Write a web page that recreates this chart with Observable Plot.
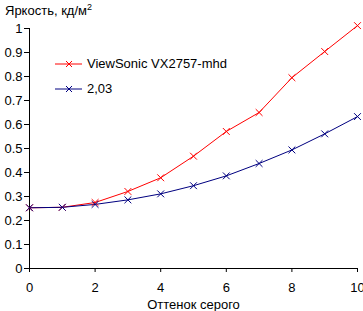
<!DOCTYPE html>
<html>
<head>
<meta charset="utf-8">
<script src="https://cdn.jsdelivr.net/npm/d3@7"></script>
<script src="https://cdn.jsdelivr.net/npm/@observablehq/plot@0.6"></script>
<style>
  html, body { margin: 0; padding: 0; background: #fff; }
  #wrap { position: relative; width: 363px; height: 311px; font-family: "Liberation Sans", Arial, sans-serif; font-size: 13px; color: #000; }
  #wrap svg { display: block; }
  .ov { position: absolute; white-space: nowrap; line-height: 1; }
  .leg { position: absolute; left: 55px; display: flex; align-items: center; white-space: nowrap; }
  .leg span { margin-left: 4px; }
</style>
</head>
<body>
<div id="wrap"></div>
<script>
const shades = [0, 1, 2, 3, 4, 5, 6, 7, 8, 9, 10];
const monitorValues = [0.253, 0.255, 0.275, 0.321, 0.378, 0.468, 0.571, 0.650, 0.795, 0.904, 1.012];
const gammaValues   = [0.253, 0.255, 0.267, 0.286, 0.311, 0.345, 0.386, 0.4375, 0.494, 0.561, 0.633];
const seriesNames = ["ViewSonic VX2757-mhd", "2,03"];
const seriesColors = ["#ff0000", "#000080"];
const xTicks = [0, 2, 4, 6, 8, 10];
const yTicks = [0, 0.1, 0.2, 0.3, 0.4, 0.5, 0.6, 0.7, 0.8, 0.9, 1];
const yTitle = "Яркость, кд/м";
const xTitle = "Оттенок серого";

const data = [];
shades.forEach((s, i) => {
  data.push({x: s, y: monitorValues[i], series: seriesNames[0]});
  data.push({x: s, y: gammaValues[i], series: seriesNames[1]});
});
const colorOf = d => seriesColors[seriesNames.indexOf(d.series)];

const chart = Plot.plot({
  width: 363,
  height: 311,
  marginLeft: 29,
  marginRight: 6,
  marginTop: 28,
  marginBottom: 43,
  style: {fontFamily: '"Liberation Sans", Arial, sans-serif', fontSize: "13px", color: "#000", background: "#fff"},
  x: {domain: [0, 10]},
  y: {domain: [0, 1]},
  marks: [
    Plot.axisX({ticks: xTicks, tickSize: 4, tickPadding: 10, tickFormat: d3.format("~g"), label: xTitle, labelAnchor: "center", labelArrow: "none", labelOffset: 40, stroke: "#000"}),
    Plot.axisY({ticks: yTicks, tickSize: 5, tickPadding: 2, tickFormat: d3.format("~g"), label: null, stroke: "#000"}),
    Plot.ruleX([0], {stroke: "#000", strokeWidth: 1}),
    Plot.ruleY([0], {stroke: "#000", strokeWidth: 1}),
    Plot.line(data, {x: "x", y: "y", z: "series", stroke: colorOf, strokeWidth: 1}),
    Plot.dot(data, {x: "x", y: "y", symbol: "times", r: 3.2, stroke: colorOf, strokeWidth: 1})
  ]
});
const wrap = document.getElementById("wrap");
wrap.appendChild(chart);

const title = document.createElement("div");
title.className = "ov";
title.style.left = "5px";
title.style.top = "4px";
title.innerHTML = yTitle + '<sup style="font-size:9px;vertical-align:5px;line-height:0">2</sup>';
wrap.appendChild(title);

seriesNames.forEach((name, i) => {
  const row = document.createElement("div");
  row.className = "leg";
  row.style.top = (i === 0 ? 56 : 81) + "px";
  const c = seriesColors[i];
  row.innerHTML = `<svg width="28" height="14"><line x1="0" y1="7" x2="27" y2="7" stroke="${c}" stroke-width="1"/><path d="M11,4L17,10M17,4L11,10" stroke="${c}" stroke-width="1"/></svg><span>${name}</span>`;
  wrap.appendChild(row);
});
</script>
</body>
</html>
